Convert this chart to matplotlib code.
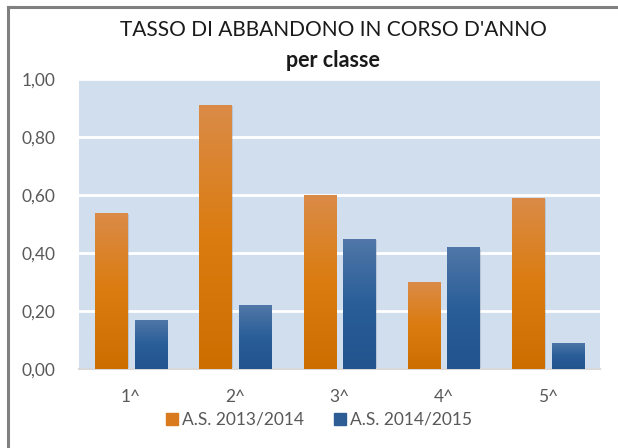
import numpy as np
import matplotlib
matplotlib.use('Agg')
import matplotlib.pyplot as plt
from matplotlib.colors import LinearSegmentedColormap
from matplotlib.patches import Rectangle
from matplotlib.lines import Line2D

# Dati
classi = ['1^', '2^', '3^', '4^', '5^']
serie = ['A.S. 2013/2014', 'A.S. 2014/2015']
as_2013_2014 = [0.54, 0.91, 0.60, 0.30, 0.59]
as_2014_2015 = [0.17, 0.22, 0.45, 0.42, 0.09]
yticks = [0.0, 0.2, 0.4, 0.6, 0.8, 1.0]

plt.rcParams['font.family'] = ['Lato', 'DejaVu Sans']

fig = plt.figure(figsize=(6.18, 4.48), dpi=100)
ax = fig.add_axes([0.1278, 0.1757, 0.8431, 0.648])
ax.set_facecolor('#D0DEEE')

x = np.arange(len(classi))
w = 0.31
off = 0.19

# gradienti per le barre
grad_or = LinearSegmentedColormap.from_list('or', ['#CC6E00', '#DB7C10', '#DA8B48'])
grad_bl = LinearSegmentedColormap.from_list('bl', ['#22548E', '#2A5E98', '#5077A8'])

def disegna_barre(xs, vals, cmap, colore):
    bars = ax.bar(xs, vals, w, color=colore, zorder=3, linewidth=0)
    for b in bars:
        # ombra leggera
        sh = Rectangle((b.get_x() + 0.012, 0), b.get_width(), b.get_height() - 0.004,
                       facecolor='#8A9AAE', alpha=0.35, zorder=2, linewidth=0)
        ax.add_patch(sh)
        grad = np.linspace(0, 1, 100).reshape(-1, 1)
        im = ax.imshow(grad, cmap=cmap, origin='lower', aspect='auto',
                       extent=[b.get_x(), b.get_x() + b.get_width(), 0, b.get_height()],
                       zorder=4)
        im.set_clip_path(b)
    return bars

disegna_barre(x - off, as_2013_2014, grad_or, '#D97A1F')
disegna_barre(x + off, as_2014_2015, grad_bl, '#2E5C94')

ax.set_xlim(-0.5, len(classi) - 0.5)
ax.set_ylim(0, 1.0)
ax.set_yticks(yticks)
ax.set_yticklabels([f'{v:.2f}'.replace('.', ',') for v in yticks])
ax.set_xticks(x)
ax.set_xticklabels(classi)
ax.tick_params(axis='both', length=0, labelsize=12.5, colors='#595959')
ax.tick_params(axis='x', pad=14)
ax.tick_params(axis='y', pad=17)
ax.grid(axis='y', color='white', linewidth=2, zorder=1)
ax.set_axisbelow(True)
for s in ['top', 'right', 'left']:
    ax.spines[s].set_visible(False)
ax.spines['bottom'].set_color('#D9D9D9')
ax.spines['bottom'].set_linewidth(1.5)

fig.text(0.539, 0.932, "TASSO DI ABBANDONO IN CORSO D'ANNO", ha='center', va='center',
         fontsize=15, color='#1a1a1a')
fig.text(0.539, 0.865, 'per classe', ha='center', va='center',
         fontsize=15.5, fontweight='bold', color='#1a1a1a')

handles = [Line2D([], [], marker='s', linestyle='', markersize=8, color='#D97A1F'),
           Line2D([], [], marker='s', linestyle='', markersize=8, color='#2E5C94')]
fig.legend(handles, serie, loc='center', bbox_to_anchor=(0.515, 0.063), ncol=2,
           frameon=False, fontsize=12.5, labelcolor='#595959', handletextpad=0.15,
           columnspacing=1.7, handlelength=0.8)

# cornice grigia (solo sinistra e sopra, come nell'originale)
fig.add_artist(Line2D([0.0135, 0.0135], [0, 0.984], color='#808080', linewidth=2.2,
                      transform=fig.transFigure))
fig.add_artist(Line2D([0.0135, 1.0], [0.984, 0.984], color='#808080', linewidth=2.2,
                      transform=fig.transFigure))

fig.savefig('out.png', dpi=100)
